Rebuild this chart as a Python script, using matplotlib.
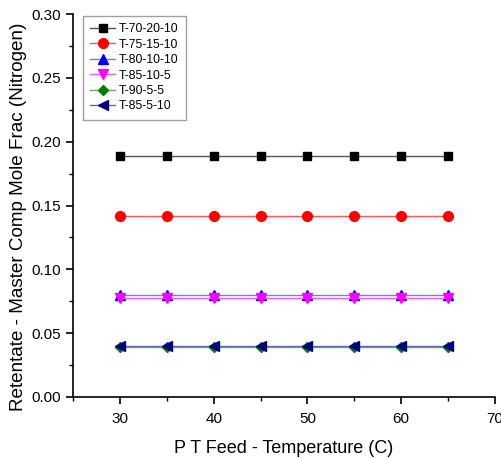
import matplotlib
matplotlib.use("Agg")
import matplotlib.pyplot as plt
from matplotlib.ticker import MultipleLocator, FormatStrFormatter

plt.rcParams['font.family'] = ['Liberation Sans', 'DejaVu Sans']

temps = [30, 35, 40, 45, 50, 55, 60, 65]
labels = ["T-70-20-10", "T-75-15-10", "T-80-10-10", "T-85-10-5", "T-90-5-5", "T-85-5-10"]
values = [0.189, 0.1415, 0.0799, 0.0775, 0.0390, 0.0400]
colors = ["black", "red", "blue", "magenta", "green", "navy"]
linecolors = ["#555555", "#ff5555", "#7777ff", "#ff55ff", "#55bb55", "#6666aa"]
markers = ["s", "o", "^", "v", "D", "<"]
msizes = [6, 7, 7, 7, 5.5, 7]

fig = plt.figure(figsize=(5.01, 4.58), dpi=100)
ax = fig.add_axes([0.1457, 0.1332, 0.988 - 0.1457, 0.9694 - 0.1332])

for lab, v, c, lc, m, ms in zip(labels, values, colors, linecolors, markers, msizes):
    ax.plot(temps, [v] * len(temps), color=lc, lw=1, marker=m, markersize=ms,
            markerfacecolor=c, markeredgecolor=c, label=lab)

ax.set_xlim(25, 70)
ax.set_ylim(0, 0.30)
ax.xaxis.set_major_locator(MultipleLocator(10))
ax.xaxis.set_minor_locator(MultipleLocator(5))
ax.yaxis.set_major_locator(MultipleLocator(0.05))
ax.yaxis.set_minor_locator(MultipleLocator(0.025))
ax.yaxis.set_major_formatter(FormatStrFormatter('%.2f'))
for s in ['top', 'right']:
    ax.spines[s].set_visible(False)
for s in ['left', 'bottom']:
    ax.spines[s].set_linewidth(1.2)
ax.tick_params(which='major', direction='out', length=5, width=1.2, labelsize=11)
ax.tick_params(axis='x', which='major', pad=6)
ax.tick_params(which='minor', direction='out', length=3, width=1)
ax.set_xlabel("P T Feed - Temperature (C)", fontsize=13, labelpad=10)
ax.set_ylabel("Retentate - Master Comp Mole Frac (Nitrogen)", fontsize=13.6)
ax.yaxis.set_label_coords(-0.108, 0.47)

leg = ax.legend(loc='upper left', bbox_to_anchor=(0.024, 0.995), fontsize=8.8,
                frameon=True, fancybox=False, edgecolor='#888888',
                handlelength=2.0, handletextpad=0.3, labelspacing=0.28,
                borderpad=0.6, borderaxespad=0)
leg.get_frame().set_linewidth(1)

fig.savefig("out.png", dpi=100)
